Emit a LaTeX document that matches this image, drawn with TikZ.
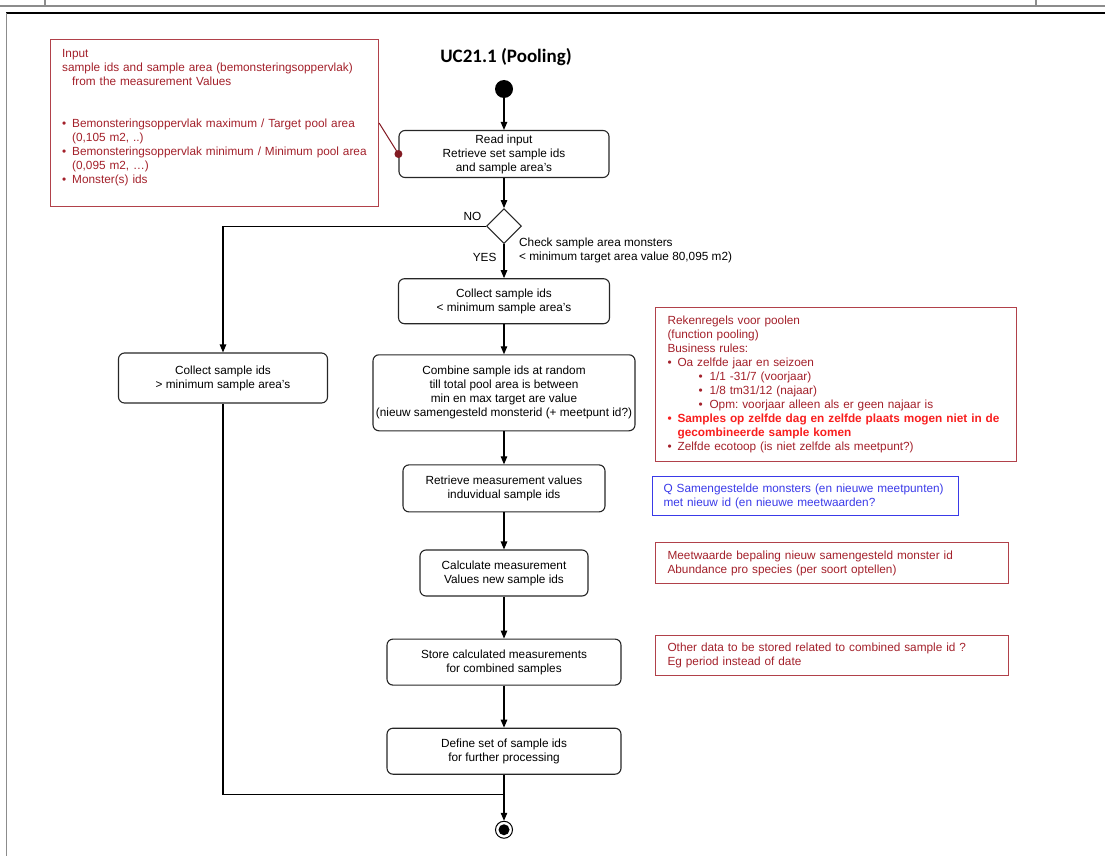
\documentclass[tikz,border=0pt]{standalone}
\usepackage{fontspec}
\setmainfont{Liberation Sans}
\newfontfamily\titlefont{Carlito}
\definecolor{notered}{HTML}{A3202A}
\definecolor{alertred}{HTML}{F81E1E}
\definecolor{qblue}{HTML}{3A3AE8}
\definecolor{framegray}{HTML}{8C8C8C}
\usetikzlibrary{positioning,arrows.meta,shapes.geometric,calc}
\frenchspacing
% bullet lines for the notes
\newcommand{\itm}[1]{\par\hangindent=10pt\hangafter=1\noindent\makebox[10pt][l]{\textbullet}#1}
\newcommand{\subitm}[1]{\par\hangindent=42pt\hangafter=1\noindent\hspace*{31pt}\makebox[11pt][l]{\textbullet}#1}

\begin{document}
\begin{tikzpicture}[x=1pt,y=-1pt,every node/.style={font=\fontsize{11.8}{14}\selectfont},
      act/.style={draw=black!85,line width=1.1pt,rounded corners=6pt,align=center,inner sep=2pt,minimum height=46pt},
      note/.style={draw=notered!85,line width=1.1pt,text=notered,align=left,inner ysep=4pt,anchor=north west},
      flow/.style={-{Triangle[length=8pt,width=6.5pt]},line width=1.1pt},
      lbl/.style={inner sep=1pt}]
    \useasboundingbox (0,0) rectangle (1105,856);
    % page frame
    \draw[framegray,line width=2.2pt] (0,6) -- (1105,6);
    \draw[framegray,line width=1.4pt] (45,0) -- (45,6) (1036,0) -- (1036,6);
    \draw[black,line width=1.4pt] (6,13) -- (1105,13);
    \draw[framegray,line width=0.9pt] (6,13) -- (6,856);

    \node[font=\titlefont\fontsize{19}{22}\selectfont\bfseries] (title) at (506,57) {UC21.1 (Pooling)};
    \node[circle,fill=black,inner sep=0pt,minimum size=18pt] (start) at (504,89) {};

    % main column
    \node[act,minimum width=210pt,minimum height=47pt] (read) at (504,154) {Read input\\Retrieve set sample ids\\and sample area's};
    \node[diamond,draw=black!85,line width=1.1pt,inner sep=0pt,minimum width=35pt,minimum height=35pt,below=30pt of read] (dec) {};
    \node[act,minimum width=211pt,minimum height=45pt,below=34pt of dec] (colmin) {Collect sample ids\\< minimum sample area's};
    \node[act,minimum width=262pt,minimum height=76pt,below=30pt of colmin] (comb) {Combine sample ids at random\\till total pool area is between\\min en max target are value\\(nieuw samengesteld monsterid (+ meetpunt id?)};
    \node[act,minimum width=202pt,minimum height=47pt,below=33pt of comb] (retr) {Retrieve measurement values\\induvidual sample ids};
    \node[act,minimum width=168pt,below=37pt of retr] (calc) {Calculate measurement\\Values new sample ids};
    \node[act,minimum width=234pt,below=42pt of calc] (store) {Store calculated measurements\\for combined samples};
    \node[act,minimum width=234pt,below=42pt of store] (define) {Define set of sample ids\\for further processing};
    \coordinate[below=20pt of define.south] (join);
    \node[circle,draw=black,line width=1pt,inner sep=0pt,minimum size=17pt,below=26pt of join] (end) {};
    \fill (end.center) circle (5.5pt);

    % left branch
    \node[act,minimum width=209pt,minimum height=50pt] (colmax) at (223,378) {Collect sample ids\\> minimum sample area's};

    \node[lbl,anchor=west,align=left] (chk) at ([xshift=14pt,yshift=-6pt]dec.south) {Check sample area monsters\\< minimum target area value 80,095 m2)};

    \draw[flow] (start) -- (read);
    \draw[flow] (read) -- (dec);
    \draw[flow] (dec) -- node[lbl,left,pos=0.4,xshift=-6pt]{YES} (colmin);
    \draw[flow] (dec.west) -- node[lbl,above left,pos=0,xshift=-3pt,yshift=4pt]{NO} (dec.west -| colmax) -- (colmax);
    \draw[flow] (colmin) -- (comb);
    \draw[flow] (comb) -- (retr);
    \draw[flow] (retr) -- (calc);
    \draw[flow] (calc) -- (store);
    \draw[flow] (store) -- (define);
    \draw[line width=1.1pt] (colmax) -- (colmax |- join) -- (join);
    \draw[flow] (define) -- (join) -- (end);

    % notes
    \node[note,minimum width=328pt,minimum height=167pt] (inp) at (50,39) {};
    \node[text=notered,anchor=north west,text width=320pt,align=left,inner sep=0pt] (inptxt) at (62,49)
      {Input\par sample ids and sample area (bemonsteringsoppervlak)\par\hspace*{10pt}from the measurement Values\par\vspace{28pt}
       \itm{Bemonsteringsoppervlak maximum / Target pool area\newline (0,105 m2, ..)}
       \itm{Bemonsteringsoppervlak minimum / Minimum pool area\newline (0,095 m2, \dots)}
       \itm{Monster(s) ids}};
    \draw[notered!80!black,line width=1pt] (inp.east) -- (read.west)
      node[circle,fill=notered!80!black,inner sep=0pt,minimum size=8pt] (pin) {};

    \node[note,text width=337pt,inner xsep=12pt,minimum height=154pt] (rules) at (655,307)
      {Rekenregels voor poolen\par (function pooling)\par Business rules:
       \itm{Oa zelfde jaar en seizoen}
       \subitm{1/1 -31/7 (voorjaar)}
       \subitm{1/8 tm31/12 (najaar)}
       \subitm{Opm: voorjaar alleen als er geen najaar is}
       {\color{alertred}\bfseries\itm{Samples op zelfde dag en zelfde plaats mogen niet in de\newline gecombineerde sample komen}\par}
       \itm{Zelfde ecotoop (is niet zelfde als meetpunt?)}};
    \node[note,draw=qblue,text=qblue,text width=284pt,inner xsep=11pt,minimum height=39pt] (qnote) at (652,476)
      {Q Samengestelde monsters (en nieuwe meetpunten)\par met nieuw id (en nieuwe meetwaarden?};
    \node[note,text width=329pt,inner xsep=12pt,minimum height=41pt] (meet) at (655,542)
      {Meetwaarde bepaling nieuw samengesteld monster id\par Abundance pro species (per soort optellen)};
    \node[note,text width=329pt,inner xsep=12pt,minimum height=40pt] (other) at (655,635)
      {Other data to be stored related to combined sample id ?\par Eg period instead of date};
  \end{tikzpicture}
\end{document}
